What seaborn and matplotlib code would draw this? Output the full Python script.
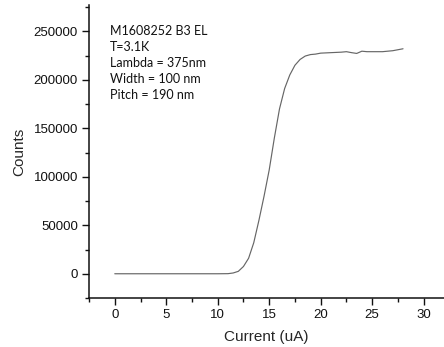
import matplotlib
matplotlib.use("Agg")
import matplotlib.pyplot as plt
import seaborn as sns
import pandas as pd
from matplotlib.ticker import MultipleLocator

current = [0, 1, 2, 3, 4, 5, 6, 7, 8, 9, 10, 11, 11.5, 12, 12.5, 13, 13.5, 14, 14.5,
           15, 15.5, 16, 16.5, 17, 17.5, 18, 18.5, 19, 19.5, 20, 21, 22, 22.5,
           23, 23.5, 24, 24.5, 25, 26, 27, 27.5, 28]
counts = [0, 0, 0, 0, 0, 0, 0, 0, 0, 0, 0, 100, 800, 2500, 7500, 16000, 32000, 55000, 80000,
          107000, 140000, 170000, 191000, 205000, 215000, 221000, 224500, 226000, 226500, 227500,
          228000, 228500, 229000, 228000, 227200, 229500, 229000, 229000, 229000, 230000, 231000, 232000]

annotation = ["M1608252 B3 EL", "T=3.1K", "Lambda = 375nm", "Width = 100 nm", "Pitch = 190 nm"]

df = pd.DataFrame({"Current (uA)": current, "Counts": counts})

sns.set_style("ticks")
plt.rcParams["font.family"] = ["Liberation Sans", "DejaVu Sans"]

fig = plt.figure(figsize=(4.44, 3.47), dpi=100)
ax = fig.add_axes([0.2005, 0.1412, 0.80, 0.844])
sns.lineplot(data=df, x="Current (uA)", y="Counts", ax=ax, color="#666666", linewidth=0.85)

ax.set_xlim(-2.5, 32)
ax.set_ylim(-25000, 277000)
ax.xaxis.set_major_locator(MultipleLocator(5))
ax.xaxis.set_minor_locator(MultipleLocator(2.5))
ax.yaxis.set_major_locator(MultipleLocator(50000))
ax.yaxis.set_minor_locator(MultipleLocator(25000))
ax.tick_params(which="major", direction="out", length=5, width=1, labelsize=9.5, colors="#111111", pad=3)
ax.tick_params(which="minor", direction="out", length=3, width=1, colors="#111111")
for s in ["top", "right"]:
    ax.spines[s].set_visible(False)
for s in ["left", "bottom"]:
    ax.spines[s].set_linewidth(1.1)
    ax.spines[s].set_color("#111111")

ax.set_xlabel("Current (uA)", fontsize=11, labelpad=6.5)
ax.set_ylabel("Counts", fontsize=11, labelpad=5.5)

for i, line in enumerate(annotation):
    fig.text(110 / 444, 1 - (31 + 16 * i) / 347, line, fontsize=9, family=["Lato", "DejaVu Sans"],
             va="center", ha="left", color="#111111")

fig.savefig("out.png", dpi=100)
